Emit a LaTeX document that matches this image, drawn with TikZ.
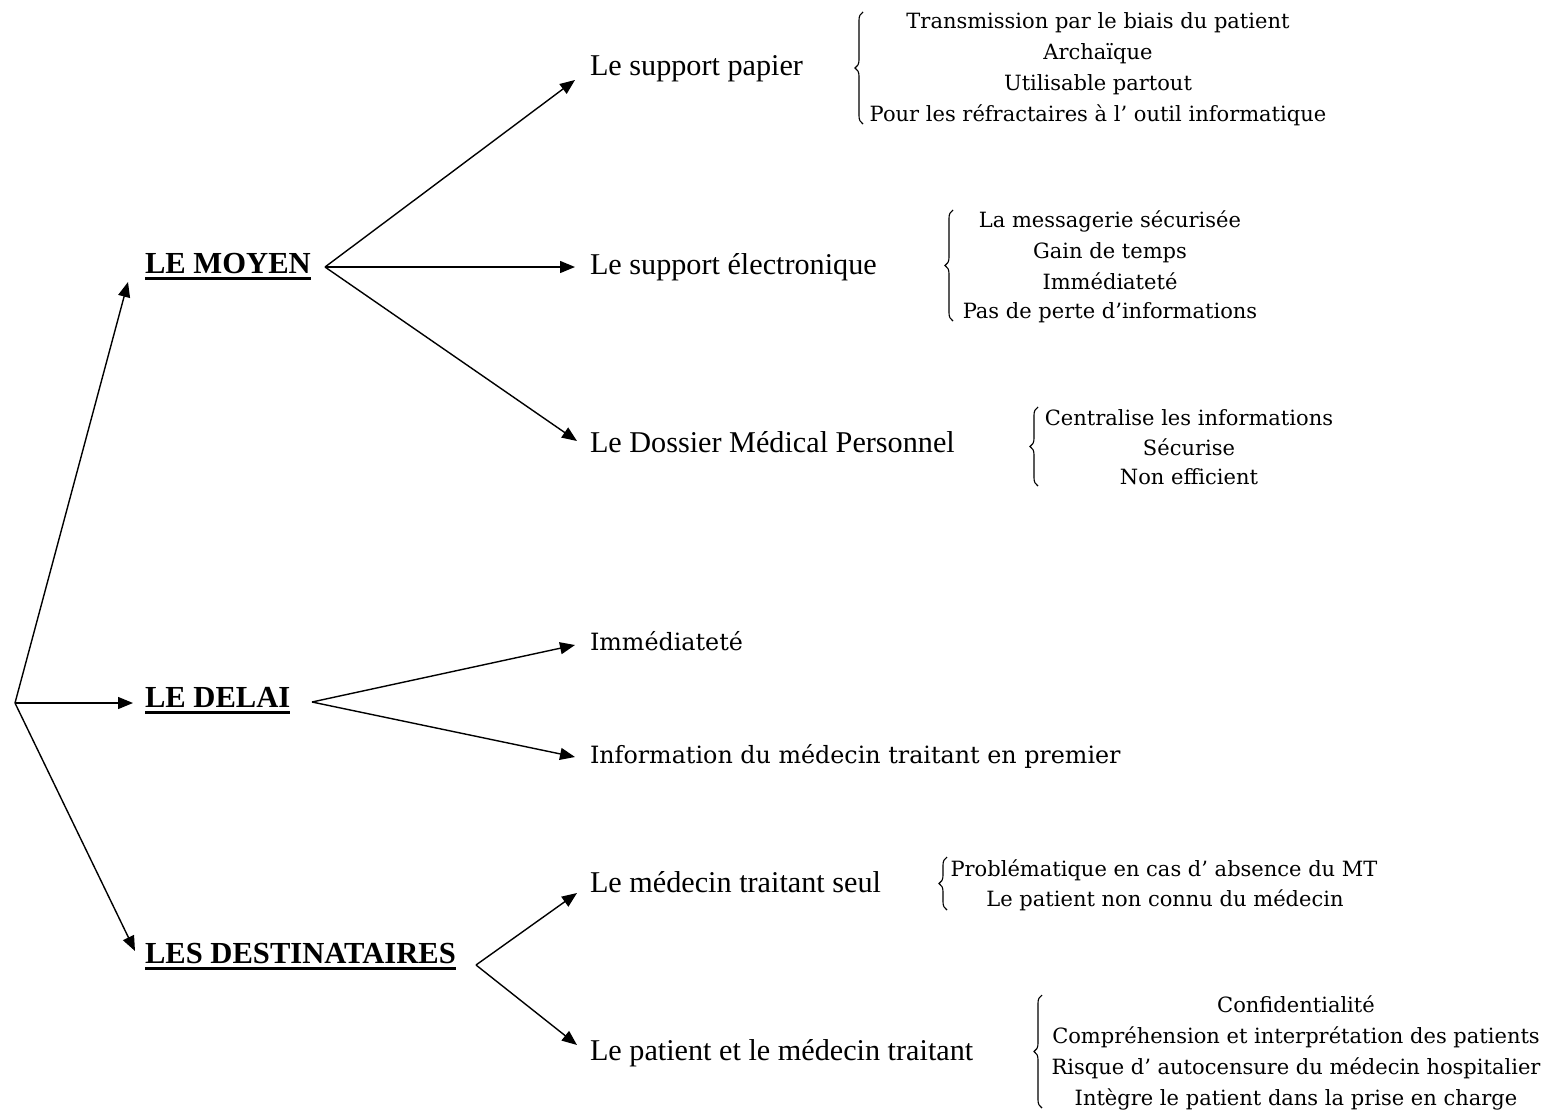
\documentclass[tikz,border=0pt]{standalone}
\usepackage{fontspec}
\setmainfont{Liberation Serif}
\newfontfamily\camfont{DejaVu Serif}
\usetikzlibrary{arrows.meta,decorations.pathreplacing}
\newcommand\ulbox[1]{\setbox0\hbox{#1}\rlap{\rule[-6.5pt]{\wd0}{2.8pt}}\box0}
\begin{document}
\begin{tikzpicture}[x=1pt,y=-1pt,
  every node/.style={inner sep=0pt,outer sep=0pt},
  headtxt/.style={anchor=base west,font=\fontsize{30.6}{36}\selectfont\bfseries},
  midtxt/.style={anchor=base west,font=\fontsize{30.2}{36}\selectfont},
  camtxt/.style={anchor=base west,font=\camfont\fontsize{23.8}{28}\selectfont},
  smalltxt/.style={anchor=base,font=\camfont\fontsize{21}{24}\selectfont},
  arr/.style={line width=1.4pt,-{Triangle[length=15pt,width=12pt]}},
  brc/.style={line width=1.1pt,decorate,decoration={brace,amplitude=8pt}}]
\useasboundingbox (0,0) rectangle (1548,1112);

% root and branch points
\coordinate (root) at (15,703);
\coordinate (bm) at (325,267);
\coordinate (bd) at (312,702);
\coordinate (bt) at (476,965);

% heads
\node[headtxt] (moyen) at (145,273) {\ulbox{LE MOYEN}};
\node[headtxt] (delai) at (145,707) {\ulbox{LE DELAI}};
\node[headtxt] (dest) at (145,963) {\ulbox{LES DESTINATAIRES}};

% middle labels
\node[midtxt] (pap) at (590,75) {Le support papier};
\node[midtxt] (elec) at (590,274) {Le support électronique};
\node[midtxt] (dmp) at (590,452) {Le Dossier Médical Personnel};
\node[camtxt] (imm) at (590,650) {Immédiateté};
\node[camtxt] (info) at (590,763) {Information du médecin traitant en premier};
\node[midtxt] (seul) at (590,892) {Le médecin traitant seul};
\node[midtxt] (pat) at (590,1060) {Le patient et le médecin traitant};

% arrows
\draw[arr] (root) -- ([shift={(-17,9)}]moyen.base west);
\draw[arr] (root) -- ([shift={(-12,-4)}]delai.base west);
\draw[arr] (root) -- ([shift={(-10,-12)}]dest.base west);
\draw[arr] (bm) -- ([shift={(-15,5)}]pap.base west);
\draw[arr] (bm) -- ([shift={(-15,-7)}]elec.base west);
\draw[arr] (bm) -- ([shift={(-13,-11)}]dmp.base west);
\draw[arr] (bd) -- ([shift={(-15,-5)}]imm.base west);
\draw[arr] (bd) -- ([shift={(-15,-6)}]info.base west);
\draw[arr] (bt) -- ([shift={(-13,1)}]seul.base west);
\draw[arr] (bt) -- ([shift={(-13,-15)}]pat.base west);

% block 1
\draw[brc] (863,124) -- (863,12);
\node[smalltxt] (p1) at (1098,28) {Transmission par le biais du patient};
\node[smalltxt] (p2) at (1098,59) {Archaïque};
\node[smalltxt] (p3) at (1098,90) {Utilisable partout};
\node[smalltxt] (p4) at (1098,121) {Pour les réfractaires à l’ outil informatique};

% block 2
\draw[brc] (953,321) -- (953,210);
\node[smalltxt] (e1) at (1110,227) {La messagerie sécurisée};
\node[smalltxt] (e2) at (1110,258) {Gain de temps};
\node[smalltxt] (e3) at (1110,289) {Immédiateté};
\node[smalltxt] (e4) at (1110,318) {Pas de perte d’informations};

% block 3
\draw[brc] (1038,486) -- (1038,407);
\node[smalltxt] (d1) at (1189,425) {Centralise les informations};
\node[smalltxt] (d2) at (1189,455) {Sécurise};
\node[smalltxt] (d3) at (1189,484) {Non efficient};

% block 4
\draw[brc] (947,910) -- (947,857);
\node[smalltxt] (s1) at (1164,876) {Problématique en cas d’ absence du MT};
\node[smalltxt] (s2) at (1165,906) {Le patient non connu du médecin};

% block 5
\draw[brc] (1042,1108) -- (1042,995);
\node[smalltxt] (t1) at (1296,1012) {Confidentialité};
\node[smalltxt] (t2) at (1296,1043) {Compréhension et interprétation des patients};
\node[smalltxt] (t3) at (1296,1074) {Risque d’ autocensure du médecin hospitalier};
\node[smalltxt] (t4) at (1296,1105) {Intègre le patient dans la prise en charge};
\end{tikzpicture}
\end{document}
